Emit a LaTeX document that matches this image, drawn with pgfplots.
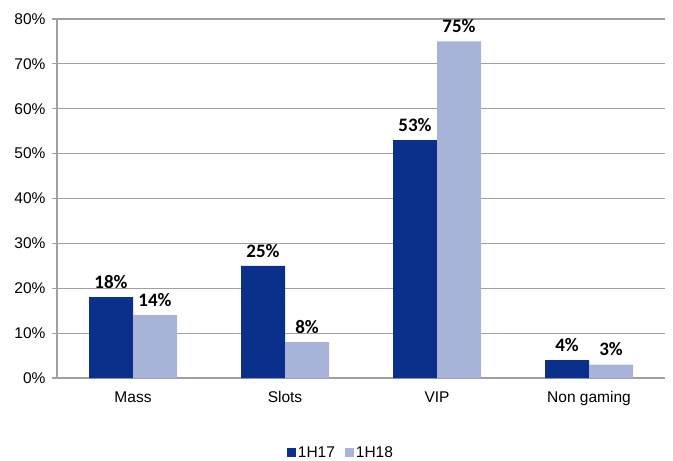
\documentclass[border=0pt]{standalone}
\usepackage{pgfplots}
\pgfplotsset{compat=1.18}
\usepackage{fontspec}
\setmainfont{Liberation Sans}
\newfontfamily\cb{Carlito}
\definecolor{darkb}{HTML}{0A308C}
\definecolor{lightb}{HTML}{A7B3D9}
\definecolor{gridg}{HTML}{A0A0A0}
\begin{document}
\begin{tikzpicture}
\begin{axis}[
  scale only axis,
  width=608bp, height=359bp,
  ymin=0, ymax=80,
  xmin=-0.5, xmax=3.5,
  ybar=0pt, bar width=44bp,
  axis x line*=bottom, axis y line*=left,
  axis line style={gridg, line width=1.2bp},
  ytick={0,10,...,80},
  yticklabels={0\%,10\%,20\%,30\%,40\%,50\%,60\%,70\%,80\%},
  ymajorgrids, grid style={gridg, line width=1.2bp},
  ytick style={gridg, line width=1.2bp},
  tick align=outside, major tick length=5bp,
  xtick={0,1,2,3},
  xticklabels={Mass,Slots,VIP,Non gaming},
  xtick style={draw=none},
  extra x ticks={0.5,1.5,2.5},
  extra x tick labels={},
  extra x tick style={xtick style={gridg, line width=1.2bp}, major tick length=4bp},
  tick label style={font=\fontsize{15.5bp}{18bp}\selectfont, text=black},
  yticklabel style={xshift=-3bp},
  xticklabel style={yshift=-5bp},
  /pgf/number format/assume math mode=true,
  nodes near coords={\pgfmathprintnumber\pgfplotspointmeta\%},
  nodes near coords style={font=\cb\bfseries\fontsize{19bp}{21bp}\selectfont, text=black, yshift=5bp},
  clip=false,
  legend style={at={(0.467,-0.209)}, anchor=center, draw=none, legend columns=2,
    font=\fontsize{15.5bp}{18bp}\selectfont, /tikz/every even column/.append style={column sep=8bp}},
  legend image code/.code={\fill[#1] (0bp,-4bp) rectangle (9bp,5bp);},
]
\addplot[fill=darkb, draw=none] coordinates {(0,18) (1,25) (2,53) (3,4)};
\addplot[fill=lightb, draw=none] coordinates {(0,14) (1,8) (2,75) (3,3)};
\legend{1H17,1H18}
\end{axis}
\pgfresetboundingbox
\path[use as bounding box] (-57bp,-83bp) rectangle (616bp,378bp);
\end{tikzpicture}
\end{document}
